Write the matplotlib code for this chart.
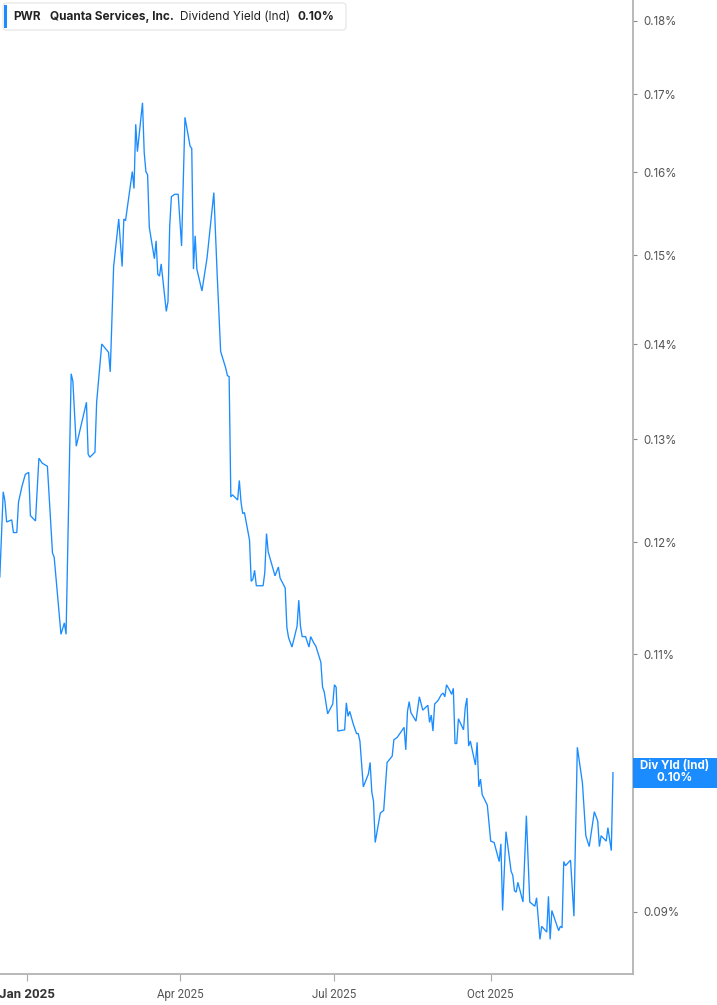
import matplotlib
matplotlib.use("Agg")
import matplotlib.pyplot as plt
import matplotlib.dates as mdates
from matplotlib.patches import FancyBboxPatch, Rectangle
from matplotlib.ticker import FixedLocator, NullLocator, FuncFormatter
import pandas as pd

# dividend yield (indicated), in %
dates = [
    "2024-12-16", "2024-12-18", "2024-12-19", "2024-12-20", "2024-12-23", "2024-12-24", "2024-12-26",
    "2024-12-27", "2024-12-29", "2024-12-31", "2025-01-02", "2025-01-03", "2025-01-06", "2025-01-08",
    "2025-01-10", "2025-01-13", "2025-01-16", "2025-01-17", "2025-01-21", "2025-01-23", "2025-01-24",
    "2025-01-27", "2025-01-28", "2025-01-30", "2025-02-05", "2025-02-06", "2025-02-07", "2025-02-10",
    "2025-02-11", "2025-02-14", "2025-02-18", "2025-02-19", "2025-02-21", "2025-02-24", "2025-02-26",
    "2025-02-27", "2025-02-28", "2025-03-04", "2025-03-05", "2025-03-06", "2025-03-07", "2025-03-10",
    "2025-03-11", "2025-03-12", "2025-03-13", "2025-03-14", "2025-03-17", "2025-03-18", "2025-03-19",
    "2025-03-20", "2025-03-21", "2025-03-24", "2025-03-25", "2025-03-26", "2025-03-27", "2025-03-29",
    "2025-03-31", "2025-04-02", "2025-04-04", "2025-04-07", "2025-04-08", "2025-04-09", "2025-04-10",
    "2025-04-11", "2025-04-14", "2025-04-17", "2025-04-21", "2025-04-23", "2025-04-25", "2025-04-28",
    "2025-04-29", "2025-04-30", "2025-05-01", "2025-05-02", "2025-05-05", "2025-05-06", "2025-05-07",
    "2025-05-08", "2025-05-09", "2025-05-12", "2025-05-13", "2025-05-14", "2025-05-15", "2025-05-16",
    "2025-05-20", "2025-05-21", "2025-05-22", "2025-05-23", "2025-05-27", "2025-05-29", "2025-05-30",
    "2025-06-02", "2025-06-03", "2025-06-04", "2025-06-06", "2025-06-09", "2025-06-10", "2025-06-11",
    "2025-06-12", "2025-06-14", "2025-06-16", "2025-06-17", "2025-06-19", "2025-06-20", "2025-06-23",
    "2025-06-24", "2025-06-25", "2025-06-27", "2025-06-30", "2025-07-01", "2025-07-02", "2025-07-03",
    "2025-07-07", "2025-07-08", "2025-07-09", "2025-07-10", "2025-07-12", "2025-07-14", "2025-07-15",
    "2025-07-16", "2025-07-18", "2025-07-21", "2025-07-22", "2025-07-23", "2025-07-24", "2025-07-25",
    "2025-07-28", "2025-07-29", "2025-07-30", "2025-08-01", "2025-08-04", "2025-08-05", "2025-08-07",
    "2025-08-11", "2025-08-12", "2025-08-13", "2025-08-14", "2025-08-15", "2025-08-18", "2025-08-20",
    "2025-08-22", "2025-08-25", "2025-08-26", "2025-08-27", "2025-08-28", "2025-08-29", "2025-08-31",
    "2025-09-02", "2025-09-03", "2025-09-04", "2025-09-05", "2025-09-07", "2025-09-08", "2025-09-09",
    "2025-09-10", "2025-09-11", "2025-09-12", "2025-09-15", "2025-09-16", "2025-09-17", "2025-09-18",
    "2025-09-19", "2025-09-22", "2025-09-23", "2025-09-24", "2025-09-25", "2025-09-26", "2025-09-29",
    "2025-10-01", "2025-10-03", "2025-10-06", "2025-10-07", "2025-10-08", "2025-10-10", "2025-10-13",
    "2025-10-14", "2025-10-15", "2025-10-16", "2025-10-17", "2025-10-20", "2025-10-22", "2025-10-24",
    "2025-10-27", "2025-10-28", "2025-10-30", "2025-10-31", "2025-11-03", "2025-11-04", "2025-11-05",
    "2025-11-06", "2025-11-10", "2025-11-11", "2025-11-12", "2025-11-13", "2025-11-14", "2025-11-17",
    "2025-11-19", "2025-11-21", "2025-11-24", "2025-11-26", "2025-11-28", "2025-12-01", "2025-12-03",
    "2025-12-04", "2025-12-05", "2025-12-08", "2025-12-09", "2025-12-11", "2025-12-12",
]
yield_pct = [
    0.1168, 0.1248, 0.1239, 0.1219, 0.1221, 0.1209, 0.1209, 0.1238, 0.1253, 0.1265,
    0.1267, 0.1225, 0.1220, 0.1281, 0.1276, 0.1273, 0.1190, 0.1186, 0.1117, 0.1127,
    0.1117, 0.1368, 0.1360, 0.1293, 0.1338, 0.1285, 0.1282, 0.1287, 0.1338, 0.1400,
    0.1391, 0.1370, 0.1487, 0.1543, 0.1487, 0.1543, 0.1541, 0.1601, 0.1580, 0.1661,
    0.1626, 0.1689, 0.1625, 0.1601, 0.1597, 0.1533, 0.1496, 0.1517, 0.1478, 0.1476,
    0.1490, 0.1436, 0.1447, 0.1534, 0.1570, 0.1573, 0.1573, 0.1511, 0.1670, 0.1633,
    0.1630, 0.1484, 0.1523, 0.1484, 0.1459, 0.1497, 0.1575, 0.1476, 0.1392, 0.1374,
    0.1366, 0.1365, 0.1243, 0.1245, 0.1240, 0.1259, 0.1238, 0.1227, 0.1228, 0.1202,
    0.1164, 0.1166, 0.1174, 0.1160, 0.1160, 0.1172, 0.1208, 0.1191, 0.1169, 0.1177,
    0.1167, 0.1158, 0.1123, 0.1114, 0.1106, 0.1124, 0.1147, 0.1124, 0.1115, 0.1115,
    0.1106, 0.1115, 0.1109, 0.1107, 0.1093, 0.1072, 0.1068, 0.1050, 0.1058, 0.1074,
    0.1072, 0.1036, 0.1037, 0.1059, 0.1048, 0.1052, 0.1042, 0.1034, 0.1034, 0.1028,
    0.0992, 0.1002, 0.1011, 0.0988, 0.0981, 0.0950, 0.0972, 0.0973, 0.0974, 0.1011,
    0.1016, 0.1029, 0.1031, 0.1039, 0.1021, 0.1052, 0.1060, 0.1051, 0.1044, 0.1064,
    0.1053, 0.1057, 0.1043, 0.1049, 0.1036, 0.1058, 0.1061, 0.1066, 0.1067, 0.1064,
    0.1074, 0.1069, 0.1066, 0.1071, 0.1026, 0.1026, 0.1046, 0.1037, 0.1055, 0.1063,
    0.1024, 0.1028, 0.1009, 0.1027, 0.0992, 0.0998, 0.0986, 0.0978, 0.0951, 0.0950,
    0.0936, 0.0949, 0.0901, 0.0958, 0.0929, 0.0926, 0.0915, 0.0914, 0.0921, 0.0907,
    0.0970, 0.0907, 0.0904, 0.0910, 0.0881, 0.0890, 0.0886, 0.0911, 0.0881, 0.0901,
    0.0887, 0.0890, 0.0889, 0.0936, 0.0933, 0.0937, 0.0897, 0.1023, 0.0995, 0.0955,
    0.0947, 0.0973, 0.0966, 0.0947, 0.0955, 0.0951, 0.0961, 0.0944, 0.1003,
]

y_ticks = [0.09, 0.10, 0.11, 0.12, 0.13, 0.14, 0.15, 0.16, 0.17, 0.18]
x_ticks = ["2025-01-01", "2025-04-01", "2025-07-01", "2025-10-01"]
x_labels = ["Jan 2025", "Apr 2025", "Jul 2025", "Oct 2025"]

ticker = "PWR"
company = "Quanta Services, Inc."
metric = "Dividend Yield (Ind)"
last_label = "0.10%"
last_value = yield_pct[-1]

blue = "#1a8cff"
W, H = 717, 1005

fig = plt.figure(figsize=(W / 100, H / 100), dpi=100)
ax = fig.add_axes([0, 31 / H, 632.7 / W, 974 / H])

ax.plot(pd.to_datetime(dates), yield_pct, color=blue, lw=0.95, solid_joinstyle="miter")

ax.set_yscale("log")
ax.set_ylim(0.08576, 0.18296)
ax.yaxis.set_major_locator(FixedLocator(y_ticks))
ax.yaxis.set_minor_locator(NullLocator())
# the 0.10% label sits under the last-value badge, so it is left blank
ax.yaxis.set_major_formatter(FuncFormatter(lambda v, p: "" if abs(v - 0.10) < 1e-9 else f"{v:.2f}%"))
ax.yaxis.tick_right()

jan1 = mdates.date2num(pd.Timestamp("2025-01-01"))
ax.set_xlim(jan1 - 15.9, jan1 + 356.6)
ax.set_xticks(pd.to_datetime(x_ticks))
ax.set_xticklabels(x_labels)

for s in ["left", "top"]:
    ax.spines[s].set_visible(False)
for s in ["right", "bottom"]:
    ax.spines[s].set_color("#b3b3b3")
    ax.spines[s].set_linewidth(1.3)

ax.tick_params(axis="y", which="major", length=3, width=0.8, color="#888888",
               labelcolor="#555555", labelsize=8.3, pad=5)
ax.tick_params(axis="x", which="major", length=5, width=0.8, color="#aaaaaa",
               labelcolor="#555555", labelsize=8.3, pad=5)
for lab in ax.get_yticklabels():
    lab.set_family(["Inter", "DejaVu Sans"])
for i, lab in enumerate(ax.get_xticklabels()):
    lab.set_family(["Roboto", "DejaVu Sans"])
    if i == 0:
        lab.set_fontweight("bold")
        lab.set_color("#333333")
        lab.set_fontsize(9.5)

# header box, top left
def fx(px):
    return px / W

def fy(py):
    return 1 - py / H

box = FancyBboxPatch((fx(3), fy(30)), fx(343), 27 / H, boxstyle="round,pad=0,rounding_size=0.004",
                     transform=fig.transFigure, facecolor="white", edgecolor="#e4e4e4", lw=0.8, zorder=5)
fig.patches.append(box)
fig.patches.append(Rectangle((fx(4), fy(28)), fx(3), 23 / H, transform=fig.transFigure,
                             facecolor=blue, edgecolor="none", zorder=6))
hdr = dict(fontsize=8.5, color="#222222", va="center", ha="left", family=["Inter", "DejaVu Sans"], zorder=7)
fig.text(fx(13), fy(16.5), ticker, fontweight="bold", **hdr)
fig.text(fx(50), fy(16.5), company, fontweight="bold", **hdr)
fig.text(fx(180), fy(16.5), metric, **hdr)
fig.text(fx(297), fy(16.5), last_label, fontweight="bold", **hdr)

# last value badge on the right axis, centred on the last value
badge_y = ax.transData.transform((0, last_value))[1] / fig.dpi / (H / 100)
fig.patches.append(Rectangle((fx(633), badge_y - 15 / H), fx(84), 30 / H, transform=fig.transFigure,
                             facecolor=blue, edgecolor="none", zorder=5))
lab = dict(fontsize=8.3, color="white", fontweight="bold", ha="center", va="center",
           family=["Inter", "DejaVu Sans"], zorder=7)
fig.text(fx(675), badge_y + 6.5 / H, "Div Yld (Ind)", **lab)
fig.text(fx(675), badge_y - 5.5 / H, last_label, **lab)

fig.savefig("out.png", dpi=100)
